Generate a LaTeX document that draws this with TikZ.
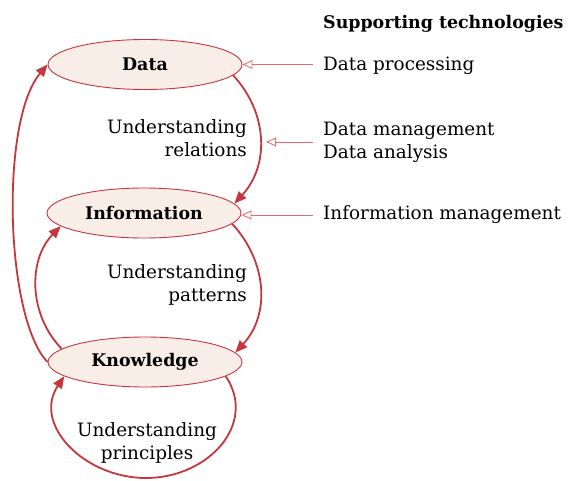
\documentclass[tikz,border=0pt]{standalone}
\usepackage{fontspec}
\setmainfont{DejaVu Serif}
\usetikzlibrary{arrows.meta,shapes.geometric}
\definecolor{kred}{HTML}{C4373D}
\definecolor{lred}{HTML}{E07070}
\definecolor{kfill}{HTML}{F9EDE7}
\tikzset{
  stage/.style={ellipse, draw=kred, line width=0.9pt, fill=kfill, minimum width=194pt, minimum height=50pt, inner sep=0pt, font=\fontsize{17.4}{20}\selectfont\bfseries},
  flow/.style={draw=kred, line width=1.8pt, -{Triangle[length=12pt,width=10pt]}},
  support/.style={draw=lred, line width=0.9pt, -{Triangle[open,length=10pt,width=9pt]}},
  lbl/.style={inner sep=0pt, font=\fontsize{18.4}{23}\selectfont},
}
\begin{document}
\begin{tikzpicture}[x=1pt,y=-1pt]
\useasboundingbox (0,0) rectangle (568,480);
\node[stage] (data) at (145,64.5) {Data};
\node[stage] (info) at (144,213) {Information};
\node[stage] (know) at (145,362) {Knowledge};

\node[lbl, align=right, anchor=east] (rel) at (247,138) {Understanding\\relations};
\node[lbl, align=right, anchor=east] (pat) at (247,285) {Understanding\\patterns};
\node[lbl, align=center] (pri) at (147,443) {Understanding\\principles};

\node[lbl, anchor=west, font=\fontsize{17.4}{20}\selectfont\bfseries] (sup) at (323,24) {Supporting technologies};
\node[lbl, anchor=west] (dp) at (323,66) {Data processing};
\node[lbl, anchor=west, align=left] (dm) at (323,142) {Data management\\Data analysis};
\node[lbl, anchor=west] (im) at (323,215) {Information management};

\coordinate (relcurve) at (266,142);
\coordinate (loopbot) at (146,478);

\draw[flow] (data.-7) .. controls +(35,38) and +(35,-38) .. (info.6);
\draw[flow] (info.-7) .. controls +(35,38) and +(35,-38) .. (know.6);
\draw[flow] (know.171) .. controls +(-33,-34) and +(-33,34) .. (info.189);
\draw[flow] (know.west) .. controls +(-42,-43) and +(-48,57) .. (data.west);
\draw[flow] (know.-10) .. controls +(32,48) and +(62,0) .. (loopbot)
  .. controls +(-62,0) and +(-32,48) .. (know.190);

\draw[support] ([xshift=-10pt]dp.west |- data.east) -- (data.east);
\draw[support] ([xshift=-10pt]dm.west) -- (relcurve);
\draw[support] ([xshift=-10pt]im.west) -- (info.east |- im.west);
\end{tikzpicture}
\end{document}
